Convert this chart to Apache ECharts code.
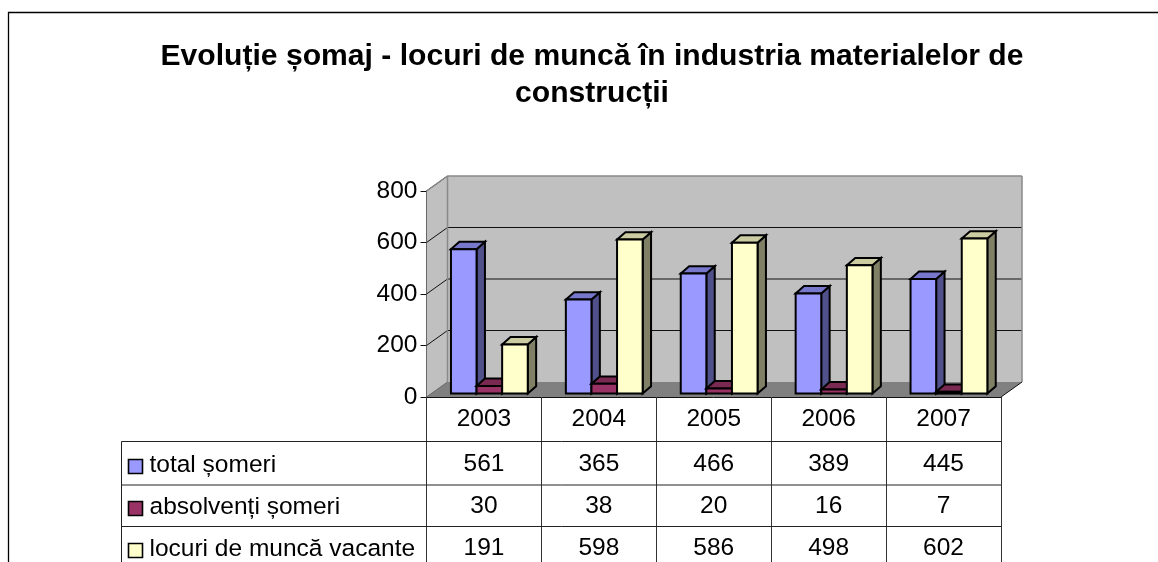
<!DOCTYPE html>
<html><head><meta charset="utf-8">
<script src="https://cdn.jsdelivr.net/npm/echarts@6/dist/echarts.min.js"></script>
<style>html,body{margin:0;padding:0;background:#fff}#c{width:1158px;height:562px}</style>
</head><body><div id="c"></div>
<script>
const titleText = 'Evoluție șomaj - locuri de muncă în industria materialelor de\nconstrucții';
const categories = ['2003','2004','2005','2006','2007'];
const yTicks = [0,200,400,600,800];
const totalSomeri = [561,365,466,389,445];
const absolventiSomeri = [30,38,20,16,7];
const locuriVacante = [191,598,586,498,602];
const seriesNames = ['total șomeri','absolvenți șomeri','locuri de muncă vacante'];
const seriesValues = [totalSomeri,absolventiSomeri,locuriVacante];

const FONT = '"Liberation Sans", Arial, sans-serif';
const palette = [
  {front:'#9999ff',top:'#7777cc',side:'#50508a'},
  {front:'#993366',top:'#7a2952',side:'#4d1a33'},
  {front:'#ffffcc',top:'#cccca3',side:'#808066'}
];
const WALL_DX = 21, WALL_DY = -15;     // wall depth
const BAR_DX = 8.4, BAR_DY = -7.4;     // bar depth
const BASE_DX = 5.4, BASE_DY = -3.4;   // bars stand this far into the floor
const BAR_W = 25.6;
const rowY = [441.5, 485, 526.5];      // table horizontal rules
const rowText = [465, 507, 549];       // table row text centres
const TABLE_LEFT = 121.5;

const chart = echarts.init(document.getElementById('c'), null, {renderer:'canvas'});

function poly(pts, fill, stroke, lw){
  return {type:'polygon', shape:{points:pts},
    style:{fill:fill, stroke:stroke||null, lineWidth:lw||0, lineJoin:'miter'}};
}
function line(x1,y1,x2,y2,stroke,lw){
  return {type:'line', shape:{x1,y1,x2,y2}, style:{stroke, lineWidth:lw||1, fill:null}};
}

function renderWalls(params, api){
  const n = categories.length;
  const bl = api.coord([0,0]), w = api.size([1,0])[0];
  const x0 = bl[0]-w/2, y0 = bl[1], x1 = x0+w*n;
  const yTop = api.coord([0,yTicks[yTicks.length-1]])[1];
  const dx = WALL_DX, dy = WALL_DY;
  const kids = [
    poly([[x0,y0],[x0+dx,y0+dy],[x0+dx,yTop+dy],[x0,yTop]],'#c0c0c0'),
    poly([[x0+dx,y0+dy],[x1+dx,y0+dy],[x1+dx,yTop+dy],[x0+dx,yTop+dy]],'#c0c0c0'),
    poly([[x0,y0],[x1,y0],[x1+dx,y0+dy],[x0+dx,y0+dy]],'#808080')
  ];
  yTicks.forEach((t,i)=>{
    if(i===0) return;
    const y = api.coord([0,t])[1];
    if(i<yTicks.length-1){
      kids.push(line(x0+dx,y+dy,x1+dx,y+dy,'#111',1.2));
    }
    kids.push(line(x0,y,x0+dx,y+dy,'#111',1));
  });
  kids.push(line(x0,y0,x0+dx,y0+dy,'#666',1));
  kids.push(line(x0,yTop,x0+dx,yTop+dy,'#8a8a8a',1.5));
  kids.push(line(x0+dx,yTop+dy,x1+dx,yTop+dy,'#8a8a8a',1.5));
  kids.push(line(x0+dx,yTop+dy,x0+dx,y0+dy,'#8a8a8a',1.5));
  kids.push(line(x1+dx,yTop+dy,x1+dx,y0+dy,'#8a8a8a',1.5));
  kids.push(line(x1,y0,x1+dx,y0+dy,'#111',1));
  return {type:'group', children:kids};
}

function makeBarRender(si){
  return function(params, api){
    const c = palette[si];
    const i = api.value(0), v = api.value(1);
    const base = api.coord([i,0]), top = api.coord([i,v]);
    const xL = base[0] + BASE_DX + (si-1.5)*BAR_W, xR = xL+BAR_W;
    const yB = base[1]+BASE_DY, yT = top[1]+BASE_DY;
    const s = {stroke:'#000', lw:2};
    return {type:'group', children:[
      poly([[xR,yB],[xR+BAR_DX,yB+BAR_DY],[xR+BAR_DX,yT+BAR_DY],[xR,yT]],c.side,s.stroke,s.lw),
      poly([[xL,yT],[xR,yT],[xR+BAR_DX,yT+BAR_DY],[xL+BAR_DX,yT+BAR_DY]],c.top,s.stroke,s.lw),
      poly([[xL,yB],[xR,yB],[xR,yT],[xL,yT]],c.front,s.stroke,s.lw)
    ]};
  };
}

function renderTable(params, api){
  const base = api.coord([0,0]), w = api.size([1,0])[0];
  const x0 = base[0]-w/2, x1 = x0+w*categories.length;
  const kids = [];
  rowY.forEach(y=>kids.push(line(TABLE_LEFT,y,x1,y,'#222',1)));
  kids.push(line(TABLE_LEFT,rowY[0],TABLE_LEFT,570,'#222',1));
  seriesNames.forEach((name,r)=>{
    const cy = rowText[r];
    kids.push({type:'rect', shape:{x:128.5,y:cy+1-6.5,width:14,height:14},
      style:{fill:palette[r].front, stroke:'#000', lineWidth:1.6}});
    kids.push({type:'text', style:{text:name, x:149.5, y:cy, fill:'#000',
      font:'24.5px '+FONT, textAlign:'left', textVerticalAlign:'middle'}});
    seriesValues[r].forEach((v,i)=>{
      const cx = api.coord([i,0])[0];
      kids.push({type:'text', style:{text:String(v), x:cx, y:cy-1, fill:'#000',
        font:'24.5px '+FONT, textAlign:'center', textVerticalAlign:'middle'}});
    });
  });
  return {type:'group', children:kids};
}

const barSeries = seriesNames.map((name,si)=>({
  type:'custom', name, coordinateSystem:'cartesian2d', clip:false, z:3+si,
  renderItem:makeBarRender(si),
  encode:{x:0,y:1},
  data:seriesValues[si].map((v,i)=>[i,v])
}));

chart.setOption({
  animation:false,
  backgroundColor:'#fff',
  title:{text:titleText, left:587, top:33, textAlign:'center',
    textStyle:{fontFamily:FONT, fontWeight:'bold', fontSize:30.1, color:'#000', lineHeight:37}},
  grid:{left:426.5, top:191, width:574.5, height:206, containLabel:false},
  xAxis:{type:'category', data:categories, boundaryGap:true,
    axisLine:{lineStyle:{color:'#111',width:1}},
    axisTick:{show:true, alignWithLabel:false, length:170, lineStyle:{color:'#333',width:1}},
    axisLabel:{color:'#000', fontFamily:FONT, fontSize:24.5, margin:10},
    splitLine:{show:false}},
  yAxis:{type:'value', min:0, max:800, interval:200,
    axisLine:{show:true, lineStyle:{color:'#111',width:1}},
    axisTick:{show:true, length:6, lineStyle:{color:'#111',width:1}},
    axisLabel:{color:'#000', fontFamily:FONT, fontSize:24.5, margin:9, padding:[2,0,0,0]},
    splitLine:{show:false}},
  graphic:[{type:'polyline', z:20, silent:true,
    shape:{points:[[8.5,570],[8.5,12.5],[1170,12.5]]},
    style:{stroke:'#000',lineWidth:1.3,fill:null}}],
  series:[
    {type:'custom', name:'walls', coordinateSystem:'cartesian2d', clip:false, z:1,
     renderItem:renderWalls, encode:{x:0,y:1}, data:[[0,0]], silent:true},
    ...barSeries,
    {type:'custom', name:'table', coordinateSystem:'cartesian2d', clip:false, z:6,
     renderItem:renderTable, encode:{x:0,y:1}, data:[[0,0]], silent:true}
  ]
});
</script></body></html>
